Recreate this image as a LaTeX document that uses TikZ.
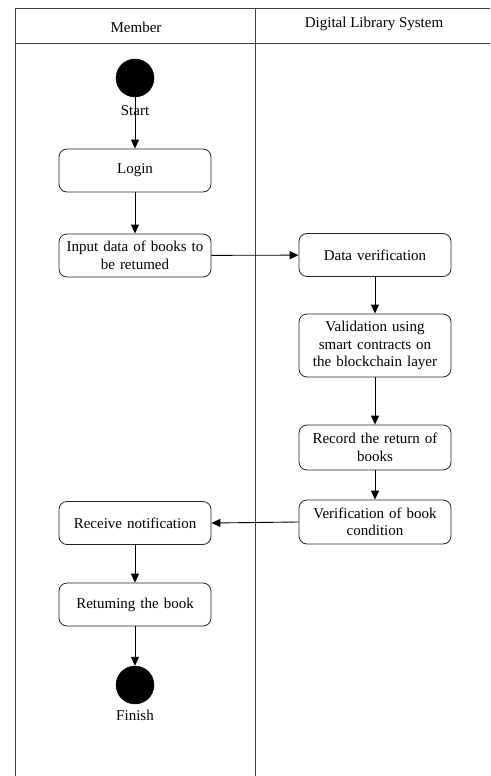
\documentclass[tikz,border=0pt]{standalone}
\usepackage{fontspec}
\setmainfont{Liberation Serif}
\usetikzlibrary{arrows.meta}
\begin{document}
\begin{tikzpicture}[x=1pt,y=-1pt,
  lane/.style={draw=black!75,line width=0.9pt},
  act/.style={draw=black!85,line width=0.8pt,rounded corners=8pt,minimum width=152pt,minimum height=43pt,text width=152pt,align=center,inner sep=0pt,font=\fontsize{15}{17.5}\selectfont},
  term/.style={circle,fill=black,draw=black,minimum size=38pt,inner sep=0pt},
  lbl/.style={font=\fontsize{15}{17.5}\selectfont,inner sep=1pt},
  flow/.style={draw=black,line width=0.9pt,-{Triangle[length=9pt,width=8pt]}}]
\useasboundingbox (0,0) rectangle (490,776);
\fill[white] (0,0) rectangle (490,776);
% swimlanes
\coordinate (tl) at (15,8);
\coordinate (tr) at (490,8);
\coordinate (hl) at (15,43);
\coordinate (hr) at (490,43);
\coordinate (bl) at (15,776);
\coordinate (mt) at (255,8);
\coordinate (mb) at (255,776);
\draw[lane] (tr) -- (tl) -- (bl);
\draw[lane] (hl) -- (hr);
\draw[lane] (mt) -- (mb);
\node[lbl] (h1) at (136,27) {Member};
\node[lbl] (h2) at (374,24) {Digital Library System};
% nodes
\node[term] (start) at (135,78) {};
\node[lbl,anchor=north] (startl) at (135,104) {Start};
\node[act] (login) at (135,170.5) {Login};
\node[act] (input) at (135,255.5) {Input data of books to\\be retumed};
\node[act] (dv) at (375,255) {Data verification};
\node[act,minimum height=63pt] (val) at (375,345.5) {Validation using\\smart contracts on\\the blockchain layer};
\node[act,minimum height=45pt] (rec) at (375,447.5) {Record the return of\\books};
\node[act,minimum height=44pt] (ver) at (375,522) {Verification of book\\condition};
\node[act] (rcv) at (135,523) {Receive notification};
\node[act] (ret) at (135,604.5) {Retuming the book};
\node[term] (fin) at (135,685) {};
\node[lbl,anchor=north] (finl) at (135,709) {Finish};
% flows
\draw[flow] (start) -- (login);
\draw[flow] (login) -- (input);
\draw[flow] (input) -- (dv);
\draw[flow] (dv) -- (val);
\draw[flow] (val) -- (rec);
\draw[flow] (rec) -- (ver);
\draw[flow] (ver.west) -- (rcv.east);
\draw[flow] (rcv) -- (ret);
\draw[flow] (ret) -- (fin);
\end{tikzpicture}
\end{document}
